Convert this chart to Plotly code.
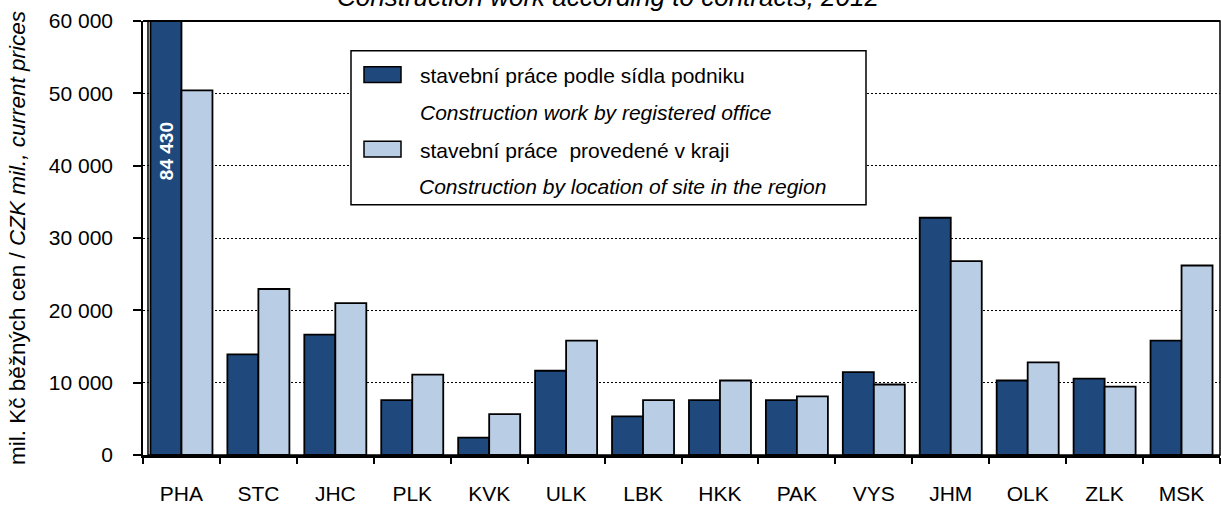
import plotly.graph_objects as go

# ---- data ----
regions = ["PHA", "STC", "JHC", "PLK", "KVK", "ULK", "LBK", "HKK", "PAK", "VYS", "JHM", "OLK", "ZLK", "MSK"]
by_office = [84430, 13900, 16650, 7600, 2400, 11650, 5350, 7600, 7600, 11450, 32800, 10300, 10550, 15800]
by_site = [50400, 22950, 21000, 11100, 5650, 15800, 7600, 10300, 8100, 9750, 26800, 12800, 9450, 26200]
y_ticks = [0, 10000, 20000, 30000, 40000, 50000, 60000]

name_office_cz = "stavební práce podle sídla podniku"
name_office_en = "Construction work by registered office"
name_site_cz = "stavební práce  provedené v kraji"
name_site_en = "Construction by location of site in the region"
title_text = "Construction work according to contracts, 2012"
ytitle_text = "mil. Kč běžných cen / <i>CZK mil., current prices</i>"

DARK = "#1F497D"
LIGHT = "#B9CDE5"
FONT = "Liberation Sans, Arial, sans-serif"

W, H = 1221, 506
ML, MR, MT, MB = 143, 1, 21, 48
PW = W - ML - MR
PH = H - MT - MB


def px(xp):
    return (xp - ML) / PW


def py(yp):
    return (H - MB - yp) / PH


fig = go.Figure()
fig.add_trace(go.Bar(x=regions, y=by_office, name=name_office_cz,
                     marker=dict(color=DARK, line=dict(color="black", width=1.8))))
fig.add_trace(go.Bar(x=regions, y=by_site, name=name_site_cz,
                     marker=dict(color=LIGHT, line=dict(color="black", width=1.8))))

fig.update_layout(
    width=W, height=H,
    margin=dict(l=ML, r=MR, t=MT, b=MB),
    paper_bgcolor="white", plot_bgcolor="white",
    barmode="group", bargap=0.194, bargroupgap=0,
    showlegend=False,
    separators=", ",
    font=dict(family=FONT, size=21, color="black"),
)

fig.update_xaxes(
    type="category", showline=True, linecolor="black", linewidth=2.5,
    ticks="outside", tickson="boundaries", ticklen=6, tickwidth=1.5, tickcolor="black",
    tickfont=dict(size=21), ticklabelstandoff=18, showgrid=False,
)
fig.update_yaxes(
    range=[0, 60000], tickvals=y_ticks, tickformat=",d",
    showline=True, linecolor="black", linewidth=1.5,
    ticks="outside", ticklen=8, tickwidth=1.5, tickcolor="black",
    tickfont=dict(size=21), ticklabelstandoff=16,
    showgrid=True, gridcolor="black", gridwidth=1.3, griddash="2px,2px",
    zeroline=False,
    title=dict(text=ytitle_text, font=dict(size=22.5), standoff=17),
)

# plot area border (top, right, inner left)
fig.add_shape(type="rect", xref="paper", yref="paper", x0=px(148), x1=1, y0=0, y1=1,
              line=dict(color="black", width=1.5), layer="above")
fig.add_shape(type="line", xref="paper", yref="paper", x0=px(143), x1=1, y0=1, y1=1,
              line=dict(color="black", width=2.2), layer="above")

# value label on the clipped bar
fig.add_annotation(x=regions[0], y=42000, xref="x", yref="y", xshift=-15.5,
                   text=f"{by_office[0]:,}".replace(",", " "), textangle=-90, showarrow=False,
                   font=dict(size=19, color="white", family=FONT, weight="bold"))

# chart title (partly cut off at top, as in the reference)
fig.add_annotation(x=px(608), y=py(-3), xref="paper", yref="paper", text=f"<i>{title_text}</i>",
                   showarrow=False, xanchor="center", yanchor="middle", font=dict(size=26))

# custom legend
fig.add_shape(type="rect", xref="paper", yref="paper", x0=px(351), x1=px(866), y0=py(206), y1=py(51),
              line=dict(color="black", width=1.5), fillcolor="white", layer="above")
fig.add_shape(type="rect", xref="paper", yref="paper", x0=px(364), x1=px(401), y0=py(83), y1=py(67),
              line=dict(color="black", width=1.5), fillcolor=DARK, layer="above")
fig.add_shape(type="rect", xref="paper", yref="paper", x0=px(364), x1=px(401), y0=py(158), y1=py(142),
              line=dict(color="black", width=1.5), fillcolor=LIGHT, layer="above")
for txt, xl, yc in [(name_office_cz, 418, 76), (f"<i>{name_office_en}</i>", 418, 113),
                    (name_site_cz, 418, 151), (f"<i>{name_site_en}</i>", 417, 188)]:
    fig.add_annotation(x=px(xl), y=py(yc), xref="paper", yref="paper", text=txt, showarrow=False,
                       xanchor="left", yanchor="middle", font=dict(size=21))

fig.write_html("out.html", config={"displayModeBar": False},
               post_script="document.body.style.margin='0px';document.body.style.overflow='hidden';")
